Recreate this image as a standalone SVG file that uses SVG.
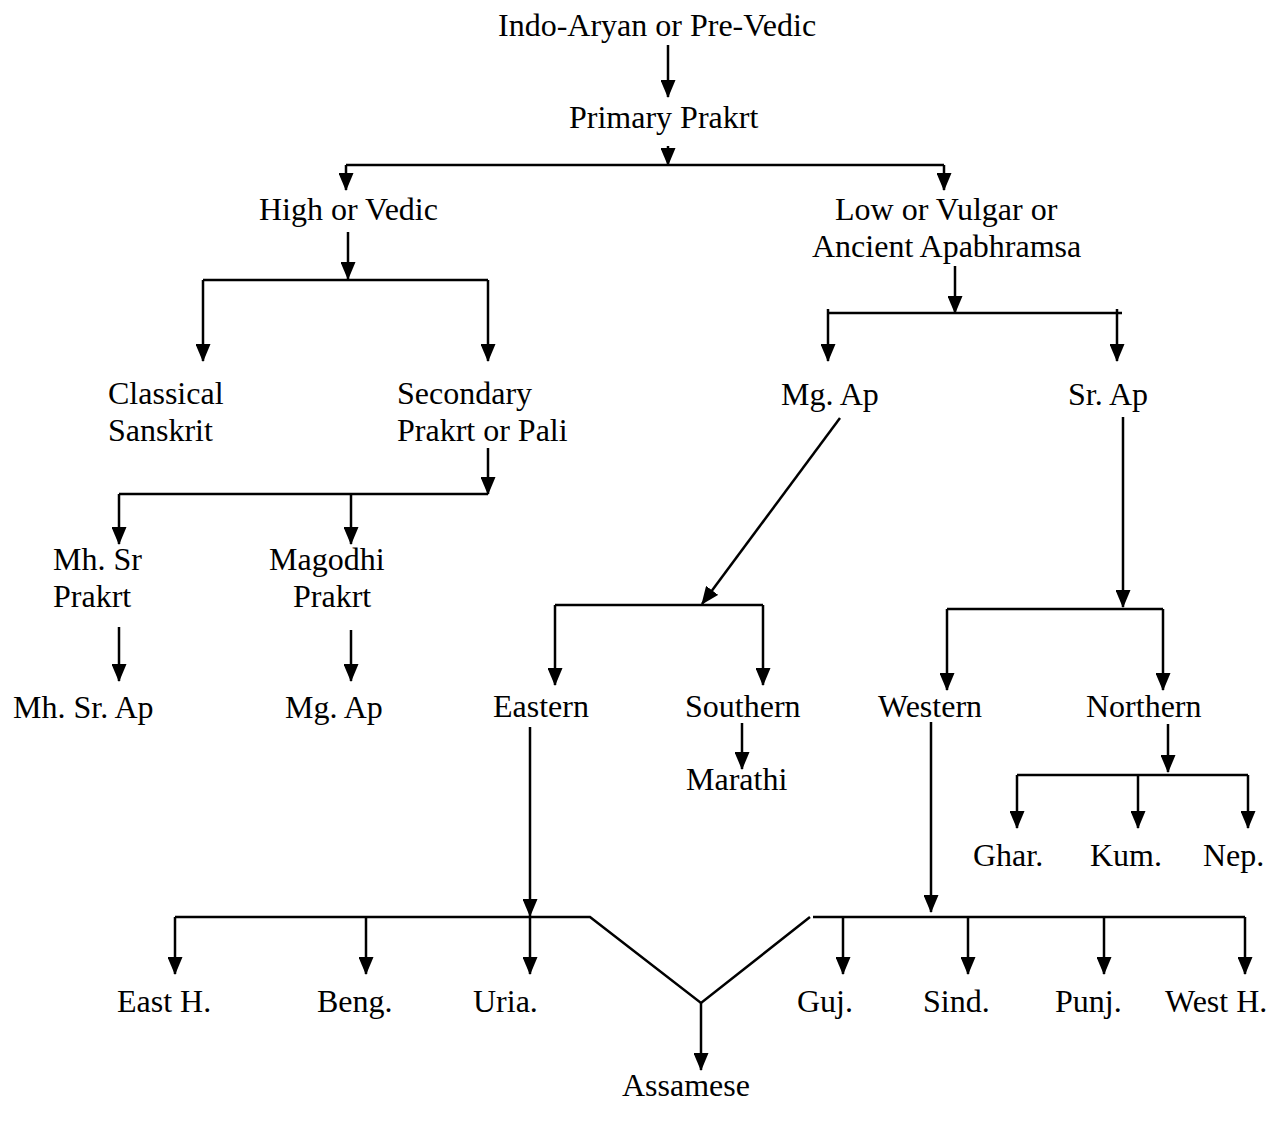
<svg xmlns="http://www.w3.org/2000/svg" width="1270" height="1127" viewBox="0 0 1270 1127">
<style>
text{font-family:"Liberation Serif","Times New Roman",serif;font-size:32px;fill:#000}
.c{stroke:#000;stroke-width:2.5;fill:none}
.a{marker-end:url(#ah)}
</style>
<defs>
<marker id="ah" markerUnits="userSpaceOnUse" markerWidth="18" markerHeight="15" refX="17" refY="7.5" orient="auto" viewBox="0 0 18 15">
<path d="M0,0 L18,7.5 L0,15 z" fill="#000"/>
</marker>
</defs>
<rect width="1270" height="1127" fill="#fff"/>
<g id="connectors">
<line class="c a" x1="668" y1="45" x2="668" y2="97"/>
<line class="c" x1="346" y1="165" x2="944" y2="165"/>
<line class="c a" x1="668" y1="146" x2="668" y2="165"/>
<line class="c a" x1="346" y1="165" x2="346" y2="190"/>
<line class="c a" x1="944" y1="165" x2="944" y2="190"/>
<line class="c a" x1="348" y1="232" x2="348" y2="279"/>
<line class="c" x1="203" y1="280" x2="488" y2="280"/>
<line class="c a" x1="203" y1="280" x2="203" y2="361"/>
<line class="c a" x1="488" y1="280" x2="488" y2="361"/>
<line class="c a" x1="488" y1="448" x2="488" y2="494"/>
<line class="c" x1="119" y1="494" x2="488" y2="494"/>
<line class="c a" x1="119" y1="494" x2="119" y2="544"/>
<line class="c a" x1="351" y1="494" x2="351" y2="544"/>
<line class="c a" x1="119" y1="627" x2="119" y2="681"/>
<line class="c a" x1="351" y1="630" x2="351" y2="681"/>
<line class="c a" x1="955" y1="266" x2="955" y2="313"/>
<line class="c" x1="828" y1="313" x2="1122" y2="313"/>
<line class="c" x1="828" y1="309" x2="828" y2="313"/>
<line class="c" x1="1117" y1="309" x2="1117" y2="313"/>
<line class="c a" x1="828" y1="313" x2="828" y2="361"/>
<line class="c a" x1="1117" y1="313" x2="1117" y2="361"/>
<line class="c a" x1="840" y1="418" x2="702" y2="604"/>
<line class="c" x1="555" y1="605" x2="763" y2="605"/>
<line class="c a" x1="555" y1="605" x2="555" y2="685"/>
<line class="c a" x1="763" y1="605" x2="763" y2="685"/>
<line class="c a" x1="1123" y1="417" x2="1123" y2="607"/>
<line class="c" x1="947" y1="609" x2="1163" y2="609"/>
<line class="c a" x1="947" y1="609" x2="947" y2="690"/>
<line class="c a" x1="1163" y1="609" x2="1163" y2="690"/>
<line class="c a" x1="742" y1="723" x2="742" y2="769"/>
<line class="c a" x1="1168" y1="724" x2="1168" y2="772"/>
<line class="c" x1="1017" y1="775" x2="1248" y2="775"/>
<line class="c a" x1="1017" y1="775" x2="1017" y2="828"/>
<line class="c a" x1="1138" y1="775" x2="1138" y2="828"/>
<line class="c a" x1="1248" y1="775" x2="1248" y2="828"/>
<line class="c a" x1="530" y1="727" x2="530" y2="916"/>
<line class="c a" x1="931" y1="722" x2="931" y2="912"/>
<polyline class="c" points="175,917 590,917 701,1003 810,917"/>
<line class="c" x1="813" y1="917" x2="1245" y2="917"/>
<line class="c a" x1="701" y1="1003" x2="701" y2="1070"/>
<line class="c a" x1="175" y1="917" x2="175" y2="974"/>
<line class="c a" x1="366" y1="917" x2="366" y2="974"/>
<line class="c a" x1="530" y1="917" x2="530" y2="974"/>
<line class="c a" x1="843" y1="917" x2="843" y2="974"/>
<line class="c a" x1="968" y1="917" x2="968" y2="974"/>
<line class="c a" x1="1104" y1="917" x2="1104" y2="974"/>
<line class="c a" x1="1245" y1="917" x2="1245" y2="974"/>
</g>
<g id="n-indo-aryan"><text x="498" y="36">Indo-Aryan or Pre-Vedic</text></g>
<g id="n-primary-prakrt"><text x="569" y="128">Primary Prakrt</text></g>
<g id="n-high-vedic"><text x="259" y="220">High or Vedic</text></g>
<g id="n-low-vulgar"><text x="835" y="220">Low or Vulgar or</text><text x="812" y="257">Ancient Apabhramsa</text></g>
<g id="n-classical-sanskrit"><text x="108" y="404">Classical</text><text x="108" y="441">Sanskrit</text></g>
<g id="n-secondary-prakrt"><text x="397" y="404">Secondary</text><text x="397" y="441">Prakrt or Pali</text></g>
<g id="n-mg-ap-top"><text x="781" y="405">Mg. Ap</text></g>
<g id="n-sr-ap"><text x="1068" y="405">Sr. Ap</text></g>
<g id="n-mh-sr-prakrt"><text x="53" y="570">Mh. Sr</text><text x="53" y="607">Prakrt</text></g>
<g id="n-magodhi-prakrt"><text x="269" y="570">Magodhi</text><text x="293" y="607">Prakrt</text></g>
<g id="n-mh-sr-ap"><text x="13" y="718">Mh. Sr. Ap</text></g>
<g id="n-mg-ap-low"><text x="285" y="718">Mg. Ap</text></g>
<g id="n-eastern"><text x="493" y="717">Eastern</text></g>
<g id="n-southern"><text x="685" y="717">Southern</text></g>
<g id="n-marathi"><text x="686" y="790">Marathi</text></g>
<g id="n-western"><text x="878" y="717">Western</text></g>
<g id="n-northern"><text x="1086" y="717">Northern</text></g>
<g id="n-ghar"><text x="973" y="866">Ghar.</text></g>
<g id="n-kum"><text x="1090" y="866">Kum.</text></g>
<g id="n-nep"><text x="1203" y="866">Nep.</text></g>
<g id="n-east-h"><text x="117" y="1012">East H.</text></g>
<g id="n-beng"><text x="317" y="1012">Beng.</text></g>
<g id="n-uria"><text x="473" y="1012">Uria.</text></g>
<g id="n-guj"><text x="797" y="1012">Guj.</text></g>
<g id="n-sind"><text x="923" y="1012">Sind.</text></g>
<g id="n-punj"><text x="1055" y="1012">Punj.</text></g>
<g id="n-west-h"><text x="1165" y="1012">West H.</text></g>
<g id="n-assamese"><text x="622" y="1096">Assamese</text></g>
</svg>
